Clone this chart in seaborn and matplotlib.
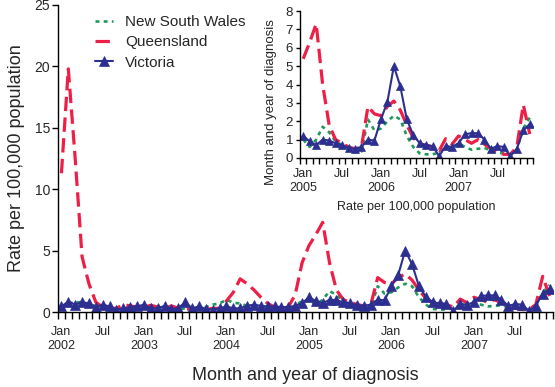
import numpy as np
import pandas as pd
import matplotlib
matplotlib.use('Agg')
import matplotlib.pyplot as plt
import seaborn as sns

# monthly notification rates, Jan 2002 - Dec 2007
months = np.arange(72)
nsw = [0.4, 0.7, 0.8, 0.8, 0.6, 0.5, 0.3, 0.1, 0.2, 0.3, 0.2, 0.2,
       0.3, 0.3, 0.2, 0.3, 0.2, 0.2, 0.3, 0.2, 0.2, 0.4, 0.6, 0.7,
       1.0, 0.75, 0.7, 0.5, 0.3, 0.1, 0.1, 0.1, 0.1, 0.2, 0.5, 0.9,
       1.0, 0.6, 1.0, 1.7, 1.4, 0.9, 0.7, 0.5, 0.45, 0.35, 2.1, 1.5,
       1.6, 2.0, 2.3, 2.1, 1.2, 0.6, 0.25, 0.2, 0.2, 0.3, 0.6, 0.55,
       0.8, 0.6, 0.45, 0.5, 0.55, 0.4, 0.3, 0.25, 0.2, 0.45, 1.6, 2.2]
qld = [11.3, 19.8, 12.5, 4.5, 2.3, 0.8, 0.4, 0.3, 0.3, 0.6, 0.5, 0.4,
       0.4, 0.55, 0.4, 0.3, 0.5, 0.3, 0.2, 0.3, 0.2, 0.2, 0.3, 0.3,
       0.9, 1.6, 2.7, 2.3, 1.8, 1.2, 0.7, 0.4, 0.3, 0.4, 1.4, 4.0,
       5.4, 6.3, 7.3, 4.0, 1.8, 1.0, 0.8, 0.6, 0.5, 0.6, 2.8, 2.4,
       2.3, 2.8, 3.1, 2.6, 1.8, 1.1, 0.75, 0.7, 0.6, 0.4, 1.05, 0.75,
       1.2, 1.0, 0.8, 1.0, 0.75, 0.5, 0.3, 0.2, 0.2, 0.6, 2.9, 1.3]
vic = [0.45, 0.85, 0.6, 0.8, 0.7, 0.4, 0.6, 0.45, 0.2, 0.3, 0.4, 0.45,
       0.6, 0.3, 0.3, 0.5, 0.25, 0.3, 0.8, 0.3, 0.45, 0.25, 0.2, 0.3,
       0.45, 0.3, 0.3, 0.5, 0.6, 0.5, 0.45, 0.45, 0.4, 0.4, 0.5, 0.7,
       1.2, 0.9, 0.7, 1.0, 0.95, 0.8, 0.7, 0.55, 0.5, 0.6, 1.0, 0.95,
       2.1, 3.05, 5.0, 3.9, 2.1, 1.25, 0.8, 0.7, 0.65, 0.1, 0.65, 0.6,
       0.8, 1.3, 1.35, 1.35, 1.0, 0.5, 0.65, 0.6, 0.1, 0.5, 1.5, 1.85]
years = ['2002', '2003', '2004', '2005', '2006', '2007']

df = pd.DataFrame({'month': months, 'New South Wales': nsw,
                   'Queensland': qld, 'Victoria': vic})

sns.set_style('ticks')
plt.rcParams['font.family'] = ['Liberation Sans', 'DejaVu Sans']

green = '#1F9A5A'
red = '#EE1F47'
blue = '#2C2F8F'


def draw(ax, d, ms):
    sns.lineplot(data=d, x='month', y='New South Wales', ax=ax, color=green,
                 linewidth=1.9, linestyle=(0, (1.5, 1.6)), label='New South Wales')
    sns.lineplot(data=d, x='month', y='Queensland', ax=ax, color=red,
                 linewidth=2.3, linestyle=(0, (4.5, 2.0)), label='Queensland')
    sns.lineplot(data=d, x='month', y='Victoria', ax=ax, color=blue,
                 linewidth=1.5, marker='^', markersize=ms, mec=blue, mfc=blue,
                 mew=0.5, label='Victoria')
    for s in ['top', 'right']:
        ax.spines[s].set_visible(False)
    for s in ['left', 'bottom']:
        ax.spines[s].set_color('black')
        ax.spines[s].set_linewidth(1.0)
    ax.set_facecolor('white')


fig = plt.figure(figsize=(5.55, 3.87), dpi=100)

# main chart
ax = fig.add_axes([58 / 555, 75 / 387, 495 / 555, 307 / 387])
draw(ax, df, 6.5)
ax.set_xlim(-0.5, 71.5)
ax.set_ylim(0, 25)
ax.set_yticks(range(0, 26, 5))
xt = list(range(0, 72, 6))
xl = [f'Jan\n{years[i // 12]}' if i % 12 == 0 else 'Jul' for i in xt]
ax.set_xticks(xt)
ax.set_xticklabels(xl, fontsize=9, linespacing=1.25)
ax.set_xticks(np.arange(-0.5, 72, 1), minor=True)
ax.tick_params(axis='x', which='major', length=0, pad=10)
ax.tick_params(axis='x', which='minor', length=5, width=1, color='black', direction='out')
ax.tick_params(axis='y', length=4, width=1, color='black', pad=1.5, labelsize=10)
ax.set_xlabel('Month and year of diagnosis', fontsize=13)
ax.set_ylabel('Rate per 100,000 population', fontsize=13)
ax.xaxis.set_label_coords(0.5, -0.18)
ax.yaxis.set_label_coords(-0.066, 0.5)

h, l = ax.get_legend_handles_labels()
ax.legend(h, l, loc='upper left', bbox_to_anchor=(95 / 555, 1 - 15 / 387),
          bbox_transform=fig.transFigure, frameon=False, fontsize=11,
          handlelength=1.2, handletextpad=0.75, labelspacing=0.42,
          borderpad=0, borderaxespad=0)

# inset, 2005-2007
ins = fig.add_axes([300 / 555, 229 / 387, 233 / 555, 147 / 387])
sub = df.iloc[36:].copy()
sub['month'] = sub['month'] - 36
draw(ins, sub, 5.5)
if ins.get_legend() is not None:
    ins.get_legend().remove()
ins.set_xlim(-0.5, 35.5)
ins.set_ylim(0, 8)
ins.set_yticks(range(0, 9))
xt2 = list(range(0, 36, 6))
xl2 = [f'Jan\n{years[3 + i // 12]}' if i % 12 == 0 else 'Jul' for i in xt2]
ins.set_xticks(xt2)
ins.set_xticklabels(xl2, fontsize=9, linespacing=1.15)
ins.set_xticks(np.arange(-0.5, 36, 1), minor=True)
ins.tick_params(axis='x', which='major', length=0, pad=7.5)
ins.tick_params(axis='x', which='minor', length=4, width=1, color='black', direction='out')
ins.tick_params(axis='y', length=3, width=1, color='black', pad=2, labelsize=9.5)
ins.set_xlabel('Rate per 100,000 population', fontsize=9)
ins.set_ylabel('Month and year of diagnosis', fontsize=9.5)
ins.xaxis.set_label_coords(0.5, -0.29)
ins.yaxis.set_label_coords(-0.1, 0.38)

fig.savefig('out.png', dpi=100)
